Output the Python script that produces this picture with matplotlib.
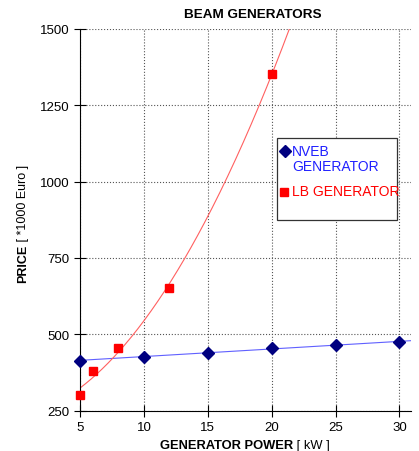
import matplotlib.pyplot as plt
import matplotlib.patches as patches
import numpy as np

plt.rcParams['font.family'] = ['Liberation Sans', 'DejaVu Sans']

# data
nveb_power = [5, 10, 15, 20, 25, 30]
nveb_price = [414, 426, 440, 455, 466, 474]
lb_power = [5, 6, 8, 12, 20]
lb_price = [300, 381, 455, 652, 1352]

x_ticks = [5, 10, 15, 20, 25, 30]
y_ticks = [250, 500, 750, 1000, 1250, 1500]

NVEB_DARK = '#000080'
NVEB_TEXT = '#2020ff'
LB_RED = '#ff0000'

fig = plt.figure(figsize=(4.19, 4.52), dpi=100)
ax = fig.add_axes([80 / 419, 1 - 411.7 / 452, 331 / 419, 382 / 452])


def px(x, y):
    # figure pixel -> axes fraction
    return (x - 80) / 331, (411.7 - y) / 382


# trend lines (linear for NVEB, quadratic for LB)
xs = np.linspace(5, 31, 300)
nveb_fit = np.polyfit(nveb_power, nveb_price, 1)
lb_fit = np.polyfit(lb_power, lb_price, 2)
ax.plot(xs, np.polyval(nveb_fit, xs), color='#6060ff', lw=0.8, zorder=2)
ax.plot(xs, np.polyval(lb_fit, xs), color='#ff6060', lw=0.8, zorder=2)

ax.plot(nveb_power, nveb_price, 'D', color=NVEB_DARK, ms=6.5, ls='none',
        zorder=3, clip_on=False)
ax.plot(lb_power, lb_price, 's', color=LB_RED, ms=5.2, ls='none',
        zorder=3, clip_on=False)

ax.set_xlim(5, 30.9)
ax.set_ylim(250, 1500)
ax.set_xticks(x_ticks)
ax.set_yticks(y_ticks)
ax.tick_params(direction='inout', length=8, labelsize=9.5, colors='black')
ax.grid(True, linestyle=':', color='#555555', lw=0.8)
ax.set_axisbelow(True)
ax.spines['right'].set_visible(False)
ax.spines['top'].set_visible(False)

tx, ty = px(253, 15)
ax.text(tx, ty, 'BEAM GENERATORS', transform=ax.transAxes, ha='center',
        va='center', fontsize=9.7, fontweight='bold')

# axis labels: bold part + regular part
lx, ly = px(293, 446)
xl = ax.text(lx, ly, 'GENERATOR POWER', transform=ax.transAxes,
             ha='right', va='center', fontsize=9.3, fontweight='bold')
ax.annotate(' [ kW ]', xy=(1, 0.5), xycoords=xl, va='center', ha='left', fontsize=9.3)
lx, ly = px(23, 283)
yl = ax.text(lx, ly, 'PRICE', transform=ax.transAxes, rotation=90,
             ha='center', va='bottom', fontsize=9, fontweight='bold')
ax.annotate(' [ *1000 Euro ]', xy=(0.5, 1), xycoords=yl, rotation=90,
            ha='center', va='bottom', fontsize=9)

# legend box, drawn by hand to match the original layout
x0, y0 = px(277, 221)
x1, y1 = px(397, 139)
ax.add_patch(patches.Rectangle((x0, y0), x1 - x0, y1 - y0, transform=ax.transAxes,
                               facecolor='white', edgecolor='#333333', lw=0.9,
                               zorder=5, clip_on=False))
mx, my = px(285, 152)
ax.plot([mx], [my], 'D', color=NVEB_DARK, ms=6.5, transform=ax.transAxes,
        clip_on=False, zorder=6)
lx, ly = px(292, 152)
ax.text(lx, ly, 'NVEB', transform=ax.transAxes, color=NVEB_TEXT, fontsize=10,
        ha='left', va='center', zorder=6)
lx, ly = px(292, 167)
ax.text(lx, ly, 'GENERATOR', transform=ax.transAxes, color=NVEB_TEXT, fontsize=10,
        ha='left', va='center', zorder=6)
mx, my = px(284, 192.5)
ax.plot([mx], [my], 's', color=LB_RED, ms=5.2, transform=ax.transAxes,
        clip_on=False, zorder=6)
lx, ly = px(292, 192.5)
ax.text(lx, ly, 'LB GENERATOR', transform=ax.transAxes, color=LB_RED, fontsize=10,
        ha='left', va='center', zorder=6)

fig.savefig('out.png', dpi=100)
